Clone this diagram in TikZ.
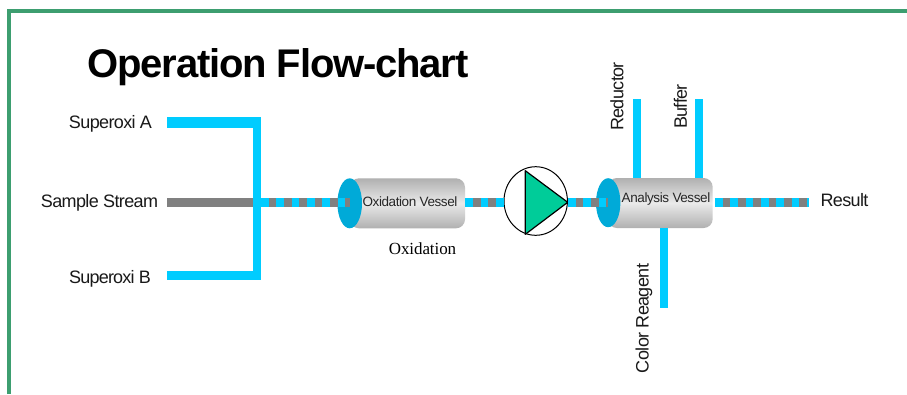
\documentclass[tikz,border=0pt]{standalone}
\usepackage{fontspec}
\setmainfont{Liberation Sans}
\newfontfamily\serifface{Liberation Serif}
\usetikzlibrary{shapes.geometric}
\definecolor{pipecyan}{HTML}{00CCFF}
\definecolor{pipegray}{HTML}{808080}
\definecolor{capblue}{HTML}{00AAD8}
\definecolor{framegreen}{HTML}{3D9E70}
\definecolor{pumpgreen}{HTML}{00CC99}
\definecolor{bodydark}{HTML}{B0B0B0}
\definecolor{bodylight}{HTML}{EAEAEA}
\tikzset{
  x=1pt,y=-1pt,
  pipe/.style={draw=pipecyan,line width=8pt},
  stem/.style={draw=pipegray,line width=9pt},
  flow/.style={draw=pipegray,line width=9pt,postaction={draw=pipecyan,dash pattern=on 7.67pt off 7.67pt}},
  lbl/.style={font=\fontsize{18}{18}\selectfont\addfontfeature{LetterSpace=-3.5},inner sep=0pt,text=black!90},
  vlbl/.style={lbl,rotate=90},
  vtext/.style={font=\fontsize{13.5}{13.5}\selectfont\addfontfeature{LetterSpace=-3},inner sep=0pt,text=black!85},
  vesselbody/.style={rectangle,rounded corners=9pt,inner sep=0pt,minimum height=50pt,top color=bodydark,bottom color=bodydark,middle color=bodylight},
  vesselcap/.style={ellipse,fill=capblue,inner sep=0pt,minimum height=50pt},
  pumpc/.style={ellipse,draw=black,line width=1pt,fill=white,inner sep=0pt,minimum width=63.4pt,minimum height=68.6pt},
}
\begin{document}
\begin{tikzpicture}
\useasboundingbox (0,0) rectangle (907,394);
\fill[white] (0,0) rectangle (907,394);
\draw[framegreen,line width=3.6pt,line join=miter] (9,394) -- (9,11) -- (907,11);
\node[anchor=base west,inner sep=0pt,font=\fontsize{40}{40}\selectfont\bfseries\addfontfeature{LetterSpace=-3}] (title) at (87.5,77) {Operation Flow-chart};

% labels
\node[lbl] (la) at (110.5,124) {Superoxi A};
\node[lbl] (ls) at (99.5,203) {Sample Stream};
\node[lbl,font=\fontsize{18}{18}\selectfont\addfontfeature{LetterSpace=-4.5}] (lb) at (110,279) {Superoxi B};
\node[lbl] (lr) at (844.5,200.5) {Result};
\node[vlbl] (lred) at (617,96.5) {Reductor};
\node[vlbl] (lbuf) at (680.5,106.5) {Buffer};
\node[vlbl] (lcol) at (644,318.5) {Color Reagent};
\node[inner sep=0pt,font=\serifface\fontsize{17}{17}\selectfont\addfontfeature{LetterSpace=-0.5}] (lox) at (422.5,249) {Oxidation};

% named ends
\coordinate (aS) at (167,122.5);
\coordinate (bS) at (167,275.5);
\coordinate (sS) at (167,202.5);
\coordinate (jT) at (257,117);
\coordinate (jB) at (257,280);
\coordinate (jA) at (261,122.5);
\coordinate (jC) at (261,275.5);
\coordinate (jW) at (253,202.5);
\coordinate (jE) at (261,202.5);
\coordinate (oIn) at (350,202.5);
\coordinate (aIn) at (608,202.5);
\coordinate (pOut) at (568,202.5);
\coordinate (resStart) at (715,202.5);
\coordinate (resEnd) at (809,202.5);
\coordinate (redTop) at (637,99);
\coordinate (bufTop) at (699,99);
\coordinate (colEnd) at (664,308);

% vessels
\node[vesselbody,minimum width=115pt] (ov) at (407.5,203.3) {};
\node[vesselcap,minimum width=24.6pt] (oc) at (349.7,203.3) {};
\node[vtext] (ovt) at (410,202) {Oxidation Vessel};
\node[vesselbody,minimum width=104.7pt] (av) at (660.3,203) {};
\node[vesselcap,minimum width=24.4pt,minimum height=49pt] (ac) at (608.2,202.7) {};
\node[vtext] (avt) at (666,199) {Analysis Vessel};

% pump
\node[pumpc] (pump) at (535.7,201) {};
\coordinate (t1) at (525.3,170.7);
\coordinate (t2) at (525.3,234.3);
\coordinate (t3) at (567.7,202.3);
\draw[fill=pumpgreen,draw=black,line width=1.2pt,line join=round] (t1) -- (t3) -- (t2) -- cycle;

% pipes
\draw[stem] (sS) -- (jW);
\draw[pipe] (jT) -- (jB);
\draw[pipe,line width=11pt] (aS) -- (jA);
\draw[pipe,line width=9pt] (bS) -- (jC);
\draw[flow] (jE) -- (oIn);
\draw[flow] (ov.east|-jE) -- (pump.west|-jE);
\draw[flow] (pOut) -- (aIn);
\draw[flow] (resStart) -- (resEnd);
\draw[pipe] (redTop) -- (redTop|-av.north);
\draw[pipe] (bufTop) -- (bufTop|-av.north);
\draw[pipe] (colEnd|-av.south) -- (colEnd);
\end{tikzpicture}
\end{document}
